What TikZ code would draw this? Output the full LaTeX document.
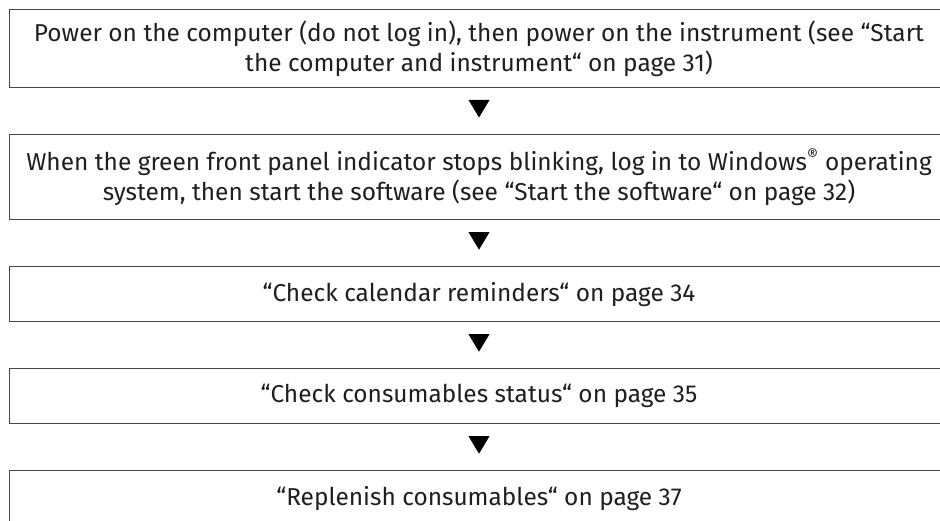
\documentclass[tikz,border=0pt]{standalone}
\usepackage{fontspec}
\setmainfont{Fira Sans}
\usetikzlibrary{calc}
\newlength\reflinew
\newsavebox\refbox
\newcommand\boxfont{\fontsize{\fs}{30}\selectfont}
\begin{document}
\sbox\refbox{\fontsize{10}{12}\selectfont Power on the computer (do not log in), then power on the instrument (see “Start}%
\setlength\reflinew{\wd\refbox}%
\pgfmathsetmacro\fs{10*890/\reflinew}%
\begin{tikzpicture}[x=1pt,y=-1pt,
  stepbox/.style={draw=black!72, line width=1.1pt, minimum width=939pt,
    inner sep=0pt, align=center, text=black!88, font=\boxfont},
  flowtri/.style={fill=black}]
\clip (0,0) rectangle (940,521);
\fill[white] (0,0) rectangle (940,521);
\node[stepbox, minimum height=78pt] (b1) at (479,48.3)
  {Power on the computer (do not log in), then power on the instrument (see “Start\\the computer and instrument“ on page 31)};
\node[stepbox, minimum height=85pt] (b2) at (479,176.8)
  {When the green front panel indicator stops blinking, log in to Windows\textsuperscript{®} operating\\system, then start the software (see “Start the software“ on page 32)};
\node[stepbox, minimum height=55pt] (b3) at (479,294.2)
  {“Check calendar reminders“ on page 34};
\node[stepbox, minimum height=55pt] (b4) at (479,395.8)
  {“Check consumables status“ on page 35};
\node[stepbox, minimum height=55pt] (b5) at (479,498.2)
  {“Replenish consumables“ on page 37};
\foreach \a/\b in {b1/b2,b2/b3,b3/b4,b4/b5}{
  \fill[flowtri] ($(\a.south)!0.5!(\b.north)+(-10.5,-10.8)$) -- ++(21,0) -- ++(-10.5,17.5) -- cycle;
}
\end{tikzpicture}
\end{document}
